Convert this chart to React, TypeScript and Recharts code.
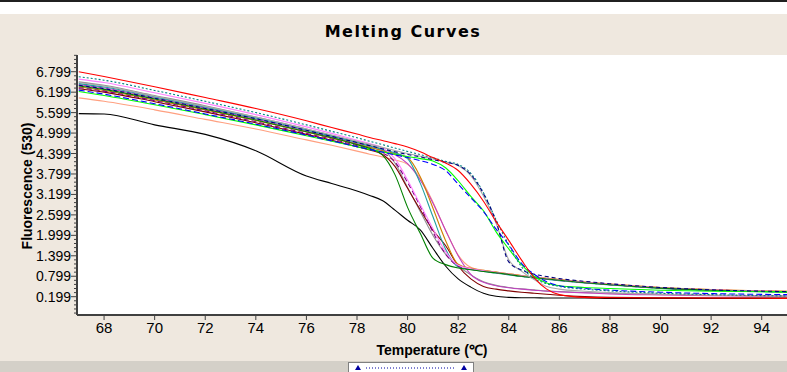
import React from "react";
import { LineChart, Line, XAxis, YAxis, Label } from "recharts";

// temperature points (°C) shared by every curve
const temps = [67, 68, 70, 72, 74, 76, 77, 78, 78.5, 79, 79.5, 80, 80.5, 81, 81.5, 82, 82.5, 83, 83.5, 84, 84.5, 85, 85.5, 86, 87, 88, 90, 92, 95];

const xTicks = [68, 70, 72, 74, 76, 78, 80, 82, 84, 86, 88, 90, 92, 94];
const yTicks = [0.199, 0.799, 1.399, 1.999, 2.599, 3.199, 3.799, 4.399, 4.999, 5.599, 6.199, 6.799];

// fluorescence readings per sample
const red = [6.8, 6.66, 6.36, 6.04, 5.72, 5.36, 5.16, 4.97, 4.87, 4.78, 4.69, 4.59, 4.45, 4.28, 4.12, 3.9, 3.5, 3.0, 2.4, 1.85, 1.28, 0.76, 0.42, 0.26, 0.18, 0.17, 0.16, 0.16, 0.15];
const teal = [6.65, 6.55, 6.25, 5.93, 5.6, 5.24, 5.05, 4.86, 4.76, 4.66, 4.56, 4.46, 4.37, 4.27, 4.17, 4.08, 3.82, 3.25, 2.45, 1.72, 1.08, 0.74, 0.58, 0.5, 0.42, 0.37, 0.3, 0.26, 0.22];
const navy = [6.4, 6.3, 6.02, 5.72, 5.42, 5.08, 4.9, 4.72, 4.63, 4.54, 4.45, 4.37, 4.3, 4.22, 4.14, 4.05, 3.78, 3.22, 2.4, 1.22, 0.98, 0.86, 0.79, 0.73, 0.65, 0.58, 0.47, 0.4, 0.35];
const silver = [6.48, 6.38, 6.08, 5.78, 5.47, 5.12, 4.94, 4.76, 4.67, 4.58, 4.49, 4.4, 4.32, 4.24, 4.15, 4.05, 3.75, 3.15, 2.35, 1.28, 0.95, 0.7, 0.5, 0.42, 0.36, 0.32, 0.27, 0.24, 0.21];
const blue = [6.26, 6.14, 5.86, 5.56, 5.26, 4.94, 4.77, 4.6, 4.52, 4.44, 4.36, 4.28, 4.19, 4.08, 3.9, 3.5, 3.1, 2.7, 2.18, 1.72, 1.18, 0.86, 0.64, 0.52, 0.44, 0.39, 0.33, 0.29, 0.26];
const lime = [6.22, 6.1, 5.83, 5.54, 5.24, 4.92, 4.76, 4.6, 4.52, 4.45, 4.38, 4.31, 4.25, 4.18, 3.98, 3.6, 3.14, 2.72, 2.1, 1.6, 1.14, 0.8, 0.6, 0.52, 0.47, 0.44, 0.39, 0.36, 0.34];
const darkGreen = [6.38, 6.28, 6.0, 5.7, 5.38, 5.04, 4.86, 4.66, 4.55, 4.36, 3.78, 2.82, 2.06, 1.33, 1.14, 1.04, 0.99, 0.94, 0.9, 0.85, 0.8, 0.76, 0.72, 0.68, 0.61, 0.55, 0.45, 0.39, 0.34];
const darkRed = [6.3, 6.2, 5.92, 5.62, 5.3, 4.96, 4.79, 4.6, 4.5, 4.38, 4.02, 3.38, 2.75, 2.15, 1.7, 1.1, 0.72, 0.5, 0.42, 0.37, 0.33, 0.3, 0.27, 0.24, 0.2, 0.18, 0.17, 0.16, 0.16];
const gray = [6.5, 6.4, 6.1, 5.8, 5.47, 5.12, 4.93, 4.74, 4.64, 4.52, 4.12, 3.4, 2.7, 2.0, 1.45, 1.1, 0.84, 0.64, 0.53, 0.47, 0.43, 0.4, 0.37, 0.35, 0.32, 0.3, 0.27, 0.24, 0.22];
const pink = [6.58, 6.48, 6.18, 5.87, 5.54, 5.18, 4.99, 4.79, 4.69, 4.57, 4.25, 3.62, 2.9, 2.2, 1.52, 1.12, 1.02, 0.96, 0.91, 0.86, 0.81, 0.77, 0.73, 0.69, 0.62, 0.56, 0.46, 0.4, 0.35];
const cyan = [6.45, 6.35, 6.06, 5.76, 5.44, 5.09, 4.91, 4.72, 4.62, 4.52, 4.42, 4.25, 3.53, 2.55, 1.6, 1.07, 1.0, 0.94, 0.89, 0.84, 0.79, 0.75, 0.71, 0.67, 0.6, 0.54, 0.44, 0.38, 0.33];
const orange = [6.35, 6.25, 5.97, 5.68, 5.37, 5.03, 4.85, 4.67, 4.58, 4.49, 4.4, 4.28, 3.72, 2.8, 1.85, 1.15, 1.03, 0.97, 0.92, 0.87, 0.82, 0.78, 0.74, 0.7, 0.63, 0.57, 0.47, 0.41, 0.36];
const magenta = [6.42, 6.32, 6.03, 5.73, 5.41, 5.06, 4.88, 4.69, 4.59, 4.48, 4.36, 4.1, 3.62, 2.95, 2.15, 1.4, 0.85, 0.62, 0.52, 0.46, 0.42, 0.39, 0.36, 0.34, 0.31, 0.28, 0.25, 0.23, 0.21];
const salmon = [6.03, 5.93, 5.68, 5.4, 5.12, 4.8, 4.64, 4.47, 4.38, 4.3, 4.21, 4.08, 3.68, 2.98, 2.15, 1.42, 1.06, 0.97, 0.92, 0.87, 0.82, 0.78, 0.74, 0.7, 0.63, 0.57, 0.47, 0.41, 0.36];
const purple = [6.33, 6.23, 5.95, 5.65, 5.33, 4.99, 4.82, 4.63, 4.53, 4.42, 4.15, 3.55, 2.85, 2.1, 1.45, 1.1, 1.01, 0.95, 0.9, 0.85, 0.8, 0.76, 0.72, 0.68, 0.61, 0.55, 0.45, 0.39, 0.34];
const black = [5.57, 5.56, 5.24, 4.96, 4.48, 3.74, 3.52, 3.3, 3.17, 3.02, 2.74, 2.44, 2.16, 1.62, 1.1, 0.72, 0.48, 0.3, 0.21, 0.18, 0.17, 0.17, 0.16, 0.16, 0.16, 0.15, 0.15, 0.15, 0.15];

const curves = [
  { key: "black", values: black },
  { key: "salmon", values: salmon },
  { key: "gray", values: gray },
  { key: "darkRed", values: darkRed },
  { key: "magenta", values: magenta },
  { key: "orange", values: orange },
  { key: "cyan", values: cyan },
  { key: "purple", values: purple },
  { key: "pink", values: pink },
  { key: "darkGreen", values: darkGreen },
  { key: "silver", values: silver },
  { key: "lime", values: lime },
  { key: "blue", values: blue },
  { key: "teal", values: teal },
  { key: "navy", values: navy },
  { key: "red", values: red },
];

const styles: Record<string, { color: string; dash?: string }> = {
  black: { color: "#000000" },
  salmon: { color: "#FFA080" },
  gray: { color: "#909090" },
  darkRed: { color: "#800000" },
  magenta: { color: "#C040C0" },
  orange: { color: "#D08000" },
  cyan: { color: "#20A0A0" },
  purple: { color: "#800080", dash: "5 3" },
  pink: { color: "#FF80FF" },
  darkGreen: { color: "#008000" },
  silver: { color: "#A8A8A8" },
  lime: { color: "#00FF00" },
  blue: { color: "#0000FF", dash: "6 3" },
  teal: { color: "#008080", dash: "2 2" },
  navy: { color: "#000080", dash: "4 3" },
  red: { color: "#FF0000" },
};

const rows = temps.map((t, i) => {
  const row: Record<string, number> = { t };
  curves.forEach((c) => {
    row[c.key] = c.values[i];
  });
  return row;
});

// minor ticks on the fluorescence axis
const yMinor = [-0.281, -0.161, -0.041, 0.079].concat(
  yTicks.flatMap((v) => [0, 1, 2, 3, 4].map((k) => +(v + k * 0.12).toFixed(3)))
);

const FONT = "'Liberation Sans', Arial, sans-serif";
const PLOT_LEFT = 77;
const BG = "#EFE8DF";

const YTick = (props: any) => {
  const { y, payload } = props;
  const v = payload.value as number;
  const major = yTicks.some((m) => Math.abs(m - v) < 0.001);
  return (
    <g>
      <line x1={PLOT_LEFT - (major ? 6 : 3)} x2={PLOT_LEFT} y1={y} y2={y} stroke="#404040" />
      {major && (
        <text x={PLOT_LEFT - 6} y={y} dy="0.36em" textAnchor="end" fontSize={14} fontFamily={FONT} fill="#000">
          {v.toFixed(3)}
        </text>
      )}
    </g>
  );
};

const XTick = (props: any) => {
  const { x, y, payload } = props;
  return (
    <text x={x} y={y + 11} textAnchor="middle" fontSize={15} fontFamily={FONT} fill="#000">
      {payload.value}
    </text>
  );
};

export default function App() {
  return (
    <div style={{ position: "absolute", left: 0, top: 0, width: 787, height: 372, background: BG, overflow: "hidden", fontFamily: FONT }}>
      <div style={{ position: "absolute", left: 0, top: 0, width: 787, height: 2, background: "#202020" }} />
      <div style={{ position: "absolute", left: 0, top: 2, width: 787, height: 12, background: "#FFFFFF" }} />
      <div
        style={{
          position: "absolute",
          left: 403,
          top: 24,
          transform: "translateX(-50%)",
          fontFamily: "'DejaVu Sans', sans-serif",
          fontWeight: "bold",
          fontSize: 16,
          lineHeight: "16px",
          letterSpacing: 1.5,
          whiteSpace: "nowrap",
          color: "#000",
        }}
      >
        Melting Curves
      </div>
      <div style={{ position: "absolute", left: PLOT_LEFT, top: 55, width: 787 - PLOT_LEFT, height: 260, background: "#FFFFFF" }} />
      <div style={{ position: "absolute", left: 0, top: 0 }}>
        <LineChart width={787} height={372} data={rows} margin={{ top: 55, right: 0, bottom: 0, left: 17 }}>
          <XAxis
            dataKey="t"
            type="number"
            domain={[66.93, 95.0]}
            ticks={xTicks}
            interval={0}
            allowDataOverflow
            height={57}
            tickSize={5}
            tickLine={{ stroke: "#404040" }}
            axisLine={{ stroke: "#404040", strokeWidth: 2 }}
            tick={<XTick />}
          >
            <Label
              content={() => (
                <text x={432} y={355} textAnchor="middle" fontSize={14} fontWeight="bold" fontFamily={FONT} fill="#000">
                  Temperature (℃)
                </text>
              )}
            />
          </XAxis>
          <XAxis
            xAxisId="top"
            orientation="top"
            dataKey="t"
            type="number"
            domain={[66.93, 95.0]}
            height={0}
            tick={false}
            tickLine={false}
            axisLine={{ stroke: "#505050", strokeWidth: 2 }}
          />
          <YAxis
            type="number"
            domain={[-0.338, 7.289]}
            ticks={yMinor}
            interval={0}
            allowDataOverflow
            width={60}
            tickLine={false}
            axisLine={{ stroke: "#404040", strokeWidth: 2 }}
            tick={<YTick />}
          >
            <Label
              content={() => (
                <text x={27} y={186} transform="rotate(-90 27 186)" textAnchor="middle" dominantBaseline="central" fontSize={14} fontWeight="bold" fontFamily={FONT} fill="#000">
                  Fluorescence (530)
                </text>
              )}
            />
          </YAxis>
          {curves.map((c) => (
            <Line
              key={c.key}
              dataKey={c.key}
              type="monotone"
              stroke={styles[c.key].color}
              strokeDasharray={styles[c.key].dash}
              strokeWidth={1.1}
              dot={false}
              activeDot={false}
              isAnimationActive={false}
            />
          ))}
        </LineChart>
      </div>
      <div style={{ position: "absolute", left: 0, top: 361, width: 787, height: 11, background: "#D4D0C8" }} />
      <div style={{ position: "absolute", left: 348, top: 362, width: 126, height: 10, background: "#FFFFFF", borderTop: "1px solid #808080", borderLeft: "1px solid #808080", borderRight: "1px solid #808080", boxSizing: "border-box" }}>
        <svg width={126} height={10} style={{ position: "absolute", left: -1, top: -1 }}>
          <polygon points="7,8 10,3 13,8" fill="#0000A0" />
          <polygon points="113,8 116,3 119,8" fill="#0000A0" />
          <line x1={18} x2={108} y1={6} y2={6} stroke="#0000A0" strokeDasharray="1 2" />
        </svg>
      </div>
    </div>
  );
}
